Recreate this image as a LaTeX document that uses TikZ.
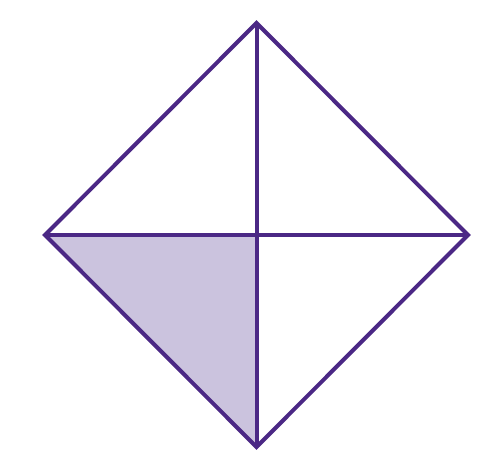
\documentclass[tikz,border=0pt]{standalone}
\definecolor{edgepurple}{HTML}{4B2885}
\definecolor{fillpurple}{HTML}{CBC3DE}
\begin{document}
\begin{tikzpicture}[x=1pt,y=1pt,line width=4pt,
  diam/.style={draw=edgepurple,line join=miter}]
\useasboundingbox (0,0) rectangle (491,465);
\coordinate (T) at (256.5,442);
\coordinate (L) at (45,230);
\coordinate (R) at (468,230);
\coordinate (B) at (256.5,18);
\coordinate (C) at (256.5,230);
\fill[fill=fillpurple] (L) -- (C) -- (B) -- cycle;
\draw[diam] (T) -- (B);
\draw[diam] (L) -- (R);
\draw[diam] (T) -- (R) -- (B) -- (L) -- cycle;
\end{tikzpicture}
\end{document}
